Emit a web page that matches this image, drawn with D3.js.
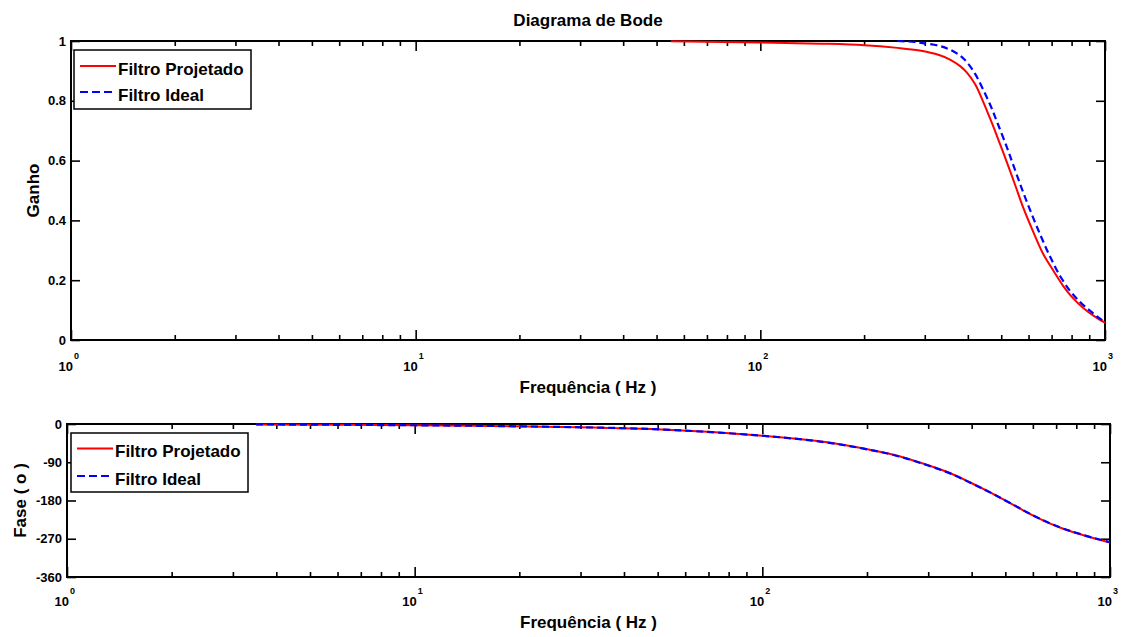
<!DOCTYPE html>
<html>
<head>
<meta charset="utf-8">
<script src="https://cdn.jsdelivr.net/npm/d3@7"></script>
<style>
  html, body { margin: 0; padding: 0; background: #fff; }
  svg text { font-family: "Liberation Sans", Arial, Helvetica, sans-serif; font-weight: bold; fill: #000; }
</style>
</head>
<body>
<svg id="chart" width="1121" height="637"></svg>
<script>
// ---- data ----
const seriesNames = ["Filtro Projetado", "Filtro Ideal"];

// magnitude (gain) of the designed filter
const gainFreqProj = [55, 100, 150, 200, 250, 290, 330, 355, 380, 397, 420, 442, 470, 496, 519, 550, 578, 620, 660, 710, 755, 800, 863, 930, 1000];
const gainProj     = [0.999, 0.995, 0.991, 0.986, 0.977, 0.968, 0.953, 0.938, 0.916, 0.895, 0.855, 0.80, 0.725, 0.655, 0.595, 0.515, 0.445, 0.36, 0.29, 0.23, 0.182, 0.145, 0.108, 0.08, 0.058];

// magnitude (gain) of the ideal filter
const gainFreqIdeal = [250, 280, 296, 330, 355, 380, 397, 420, 442, 465, 486, 519, 540, 570, 606, 650, 692, 740, 791, 850, 904, 950, 1000];
const gainIdeal     = [1.0, 0.997, 0.993, 0.984, 0.971, 0.951, 0.93, 0.89, 0.84, 0.785, 0.73, 0.645, 0.59, 0.515, 0.435, 0.35, 0.28, 0.215, 0.165, 0.125, 0.098, 0.078, 0.06];

// phase (degrees)
const phaseFreq  = [3.5, 10, 20, 48, 98, 150, 194, 240, 297, 350, 395, 445, 492, 540, 577, 620, 671, 730, 803, 900, 1000];
const phaseProj  = [-1, -3, -5.5, -12, -27, -42, -57, -73, -96, -117, -137, -158, -177, -195, -208, -221, -234, -246, -257, -269, -279];
const phaseIdeal = [-1, -3, -5.5, -12, -27, -42.5, -57.5, -73.5, -96.5, -117.5, -137.5, -158, -177, -194.5, -207.5, -220.5, -233.5, -245.5, -256.5, -268.5, -278];

// axis ticks
const decades = [1, 10, 100, 1000];
const decadeExp = ["0", "1", "2", "3"];
const gainTicks = [0, 0.2, 0.4, 0.6, 0.8, 1];
const gainTickLabels = ["0", "0.2", "0.4", "0.6", "0.8", "1"];
const phaseTicks = [-360, -270, -180, -90, 0];
const phaseTickLabels = ["-360", "-270", "-180", "-90", "0"];

const titleText = "Diagrama de Bode";
const xLabel = "Frequência ( Hz )";
const gainLabel = "Ganho";
const phaseLabel = "Fase ( o )";

// ---- drawing ----
const svg = d3.select("#chart");
const RED = "#ff0000", BLUE = "#0000ff";

const minorTicks = [];
for (let d = 1; d < 1000; d *= 10) for (let k = 2; k <= 9; k++) minorTicks.push(d * k);

function panel(x, y, yTicks, yLabels, yTitle, yTitleX, expBaseline, xTitleY) {
  const [x0, x1] = x.range();
  const [y0, y1] = y.range(); // y0 bottom, y1 top
  const g = svg.append("g");

  // inward ticks on all four sides
  const tick = (axis, tx) => g.append("g").attr("transform", tx).call(axis)
      .call(s => s.select(".domain").remove())
      .call(s => s.selectAll("line").attr("stroke", "#000").attr("stroke-width", 1.6))
      .call(s => s.selectAll("text").remove());

  tick(d3.axisBottom(x).tickValues(decades).tickSize(-10), `translate(0,${y0})`);
  tick(d3.axisBottom(x).tickValues(minorTicks).tickSize(-5), `translate(0,${y0})`);
  tick(d3.axisTop(x).tickValues(decades).tickSize(-10), `translate(0,${y1})`);
  tick(d3.axisTop(x).tickValues(minorTicks).tickSize(-5), `translate(0,${y1})`);
  tick(d3.axisLeft(y).tickValues(yTicks).tickSize(-9), `translate(${x0},0)`);
  tick(d3.axisRight(y).tickValues(yTicks).tickSize(-9), `translate(${x1},0)`);

  // frame
  g.append("rect").attr("x", x0).attr("y", y1).attr("width", x1 - x0).attr("height", y0 - y1)
    .attr("fill", "none").attr("stroke", "#000").attr("stroke-width", 2);

  // y tick labels
  g.selectAll(".ylab").data(yTicks).enter().append("text")
    .attr("x", x0 - 5).attr("y", d => y(d)).attr("dy", "0.36em")
    .attr("text-anchor", "end").attr("font-size", 13)
    .text((d, i) => yLabels[i]);

  // x tick labels 10^n
  decades.forEach((d, i) => {
    g.append("text").attr("x", x(d) + 2).attr("y", expBaseline).attr("text-anchor", "end")
      .attr("font-size", 13).text("10");
    g.append("text").attr("x", x(d) + 3).attr("y", expBaseline - 12)
      .attr("font-size", 9).text(decadeExp[i]);
  });

  // axis titles
  g.append("text").attr("x", (x0 + x1) / 2).attr("y", xTitleY).attr("text-anchor", "middle")
    .attr("font-size", 17).text(xLabel);
  g.append("text").attr("transform", `translate(${yTitleX},${(y0 + y1) / 2}) rotate(-90)`)
    .attr("text-anchor", "middle").attr("font-size", 17).text(yTitle);
  return g;
}

function curve(g, x, y, fs, vs, color, dashed) {
  const line = d3.line().x(d => x(d[0])).y(d => y(d[1])).curve(d3.curveCatmullRom.alpha(0.5));
  g.append("path").datum(fs.map((f, i) => [f, vs[i]]))
    .attr("d", line).attr("fill", "none").attr("stroke", color)
    .attr("stroke-width", dashed ? 2.2 : 2)
    .attr("stroke-dasharray", dashed ? "7,4" : null);
}

function legend(g, lx, ly, w, h, rows) {
  g.append("rect").attr("x", lx).attr("y", ly).attr("width", w).attr("height", h)
    .attr("fill", "#fff").attr("stroke", "#000").attr("stroke-width", 1.5);
  rows.forEach((r, i) => {
    const cy = ly + r.dy;
    g.append("line").attr("x1", lx + 6).attr("x2", lx + 42).attr("y1", cy).attr("y2", cy)
      .attr("stroke", r.color).attr("stroke-width", 2)
      .attr("stroke-dasharray", r.dashed ? "8,4" : null);
    g.append("text").attr("x", lx + 44).attr("y", cy + 3).attr("dy", "0.35em")
      .attr("font-size", 17).text(seriesNames[i]);
  });
}

// title
svg.append("text").attr("x", 588).attr("y", 26).attr("text-anchor", "middle")
  .attr("font-size", 17).text(titleText);

// gain panel
const xTop = d3.scaleLog().domain([1, 1000]).range([71, 1105]);
const yTop = d3.scaleLinear().domain([0, 1]).range([340, 41]);
const gTop = panel(xTop, yTop, gainTicks, gainTickLabels, gainLabel, 39, 371, 393);
curve(gTop, xTop, yTop, gainFreqProj, gainProj, RED, false);
curve(gTop, xTop, yTop, gainFreqIdeal, gainIdeal, BLUE, true);
legend(gTop, 74, 50, 177, 59, [{ dy: 16, color: RED }, { dy: 42, color: BLUE, dashed: true }]);

// phase panel
const xBot = d3.scaleLog().domain([1, 1000]).range([67, 1110]);
const yBot = d3.scaleLinear().domain([-360, 0]).range([577, 424]);
const gBot = panel(xBot, yBot, phaseTicks, phaseTickLabels, phaseLabel, 26, 606, 628);
curve(gBot, xBot, yBot, phaseFreq, phaseProj, RED, false);
curve(gBot, xBot, yBot, phaseFreq, phaseIdeal, BLUE, true);
legend(gBot, 71, 433, 177, 59, [{ dy: 15.5, color: RED }, { dy: 43, color: BLUE, dashed: true }]);
</script>
</body>
</html>
